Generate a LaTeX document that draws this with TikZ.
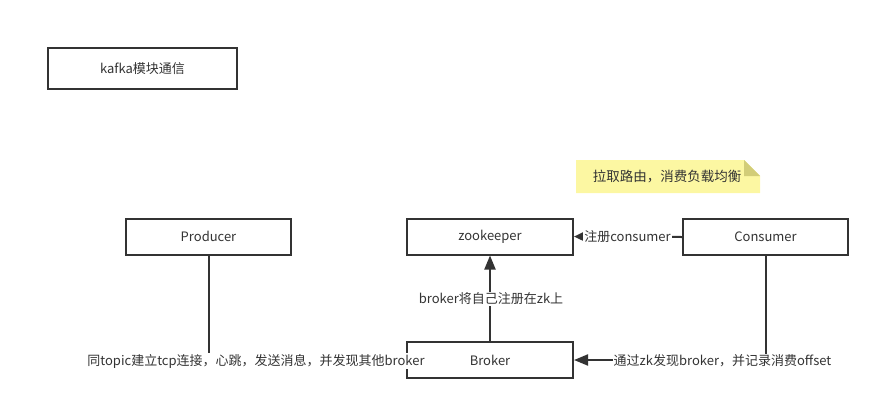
\documentclass[tikz,border=0pt]{standalone}
\usepackage{fontspec}
\setmainfont{Noto Sans CJK SC}
\usetikzlibrary{arrows.meta}
\definecolor{ink}{HTML}{333333}
\definecolor{notefill}{HTML}{FCF7A2}
\definecolor{notefold}{HTML}{D2CD78}
\begin{document}
\begin{tikzpicture}[x=1pt,y=-1pt,
  box/.style={draw=ink, line width=2pt, fill=white, text=ink, inner sep=0pt,
    font=\fontsize{13pt}{15pt}\selectfont},
  lbl/.style={fill=white, text=ink, inner sep=1pt,
    font=\fontsize{13pt}{15pt}\selectfont},
  conn/.style={draw=ink, line width=2pt},
  bigtip/.style={-{Triangle[length=14pt,width=11pt]}},
  smalltip/.style={-{Triangle[length=9pt,width=8pt]}}]
\useasboundingbox (0,0) rectangle (880,410);
% boxes
\node[box, minimum width=189pt, minimum height=41pt] (title) at (142.5,68.5) {kafka模块通信};
\node[box, minimum width=165pt, minimum height=36pt] (producer) at (208.5,236.5) {Producer};
\node[box, minimum width=166pt, minimum height=36pt] (zk) at (490,236.5) {zookeeper};
\node[box, minimum width=166pt, minimum height=36pt] (broker) at (490,360) {Broker};
\node[box, minimum width=165pt, minimum height=36pt] (consumer) at (765.5,237) {Consumer};
% note
\fill[notefill] (576,160) -- (744,160) -- (760,176) -- (760,193) -- (576,193) -- cycle;
\fill[notefold] (744,160) -- (760,176) -- (744,176) -- cycle;
\node[text=ink, font=\fontsize{13.5pt}{15pt}\selectfont] (note) at (667,177) {拉取路由，消费负载均衡};
% connectors
\draw[conn] (producer.south) |- (broker.west);
\draw[conn, bigtip] (broker.north) -- (zk.south);
\draw[conn, smalltip] (consumer.west) -- (zk.east);
\draw[conn, bigtip] (consumer.south) |- (broker.east);
% labels
\node[lbl] (l1) at (256,361) {同topic建立tcp连接，心跳，发送消息，并发现其他broker};
\node[lbl] (l2) at (491,299) {broker将自己注册在zk上};
\node[lbl] (l3) at (627.5,237) {注册consumer};
\node[lbl] (l4) at (722.5,361) {通过zk发现broker，并记录消费offset};
\end{tikzpicture}
\end{document}
